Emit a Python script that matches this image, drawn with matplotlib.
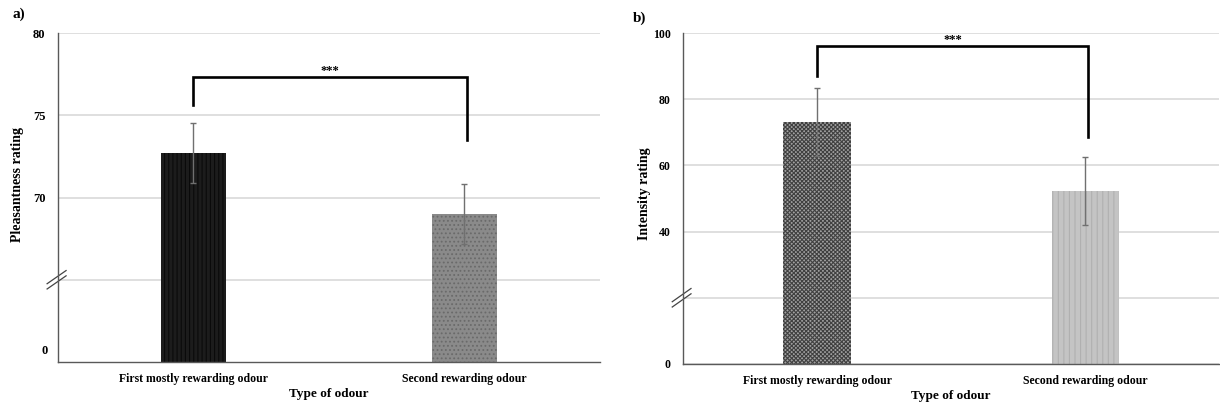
import matplotlib
matplotlib.use("Agg")
import matplotlib.pyplot as plt

plt.rcParams["font.family"] = ["Liberation Serif", "DejaVu Serif"]
plt.rcParams["font.weight"] = "bold"
plt.rcParams["hatch.linewidth"] = 0.8

# ── data ─────────────────────────────────────────────────────────────────────
categories = ["First mostly rewarding odour", "Second rewarding odour"]

pleasant_mean = [72.7, 69.0]
pleasant_err = [1.8, 1.85]

intensity_mean = [73.0, 52.3]
intensity_err = [10.3, 10.3]

# ── style ────────────────────────────────────────────────────────────────────
GRID = "#d9d9d9"
SPINE = "#595959"
ERR = "#707070"

fig = plt.figure(figsize=(12.2, 4.08), dpi=100)
ax_a = fig.add_axes([0.0475, 0.1127, 0.4443, 0.8064])
ax_b = fig.add_axes([0.5598, 0.108, 0.4395, 0.811])


def style_axis(ax, ysize):
    for side in ("top", "right"):
        ax.spines[side].set_visible(False)
    ax.spines["left"].set_color(SPINE)
    ax.spines["bottom"].set_color(SPINE)
    ax.spines["left"].set_linewidth(1.0)
    ax.spines["bottom"].set_linewidth(1.0)
    ax.tick_params(axis="both", length=0)
    ax.tick_params(axis="x", pad=8, labelsize=8.5)
    ax.tick_params(axis="y", pad=9, labelsize=ysize)
    ax.yaxis.grid(True, color=GRID, linewidth=1.2)
    ax.set_axisbelow(True)
    ax.set_xlim(-0.5, 1.5)
    ax.set_xticks(range(len(categories)))
    ax.set_xticklabels(categories, fontweight="bold")
    ax.set_xlabel("Type of odour", fontsize=9.5, fontweight="bold", labelpad=2)


def break_mark(ax, yfrac):
    for dy in (-0.008, 0.008):
        ax.plot([-0.02, 0.015], [yfrac - 0.02 + dy, yfrac + 0.02 + dy],
                transform=ax.transAxes, color="#444444", linewidth=0.9,
                clip_on=False)


def bracket(ax, y_left, y_top, y_right, x0=0.0, x1=1.01):
    ax.plot([x0, x0, x1, x1], [y_left, y_top, y_top, y_right],
            color="black", linewidth=1.9, solid_joinstyle="miter")
    ax.text((x0 + x1) / 2, y_top, "***", ha="center", va="bottom",
            fontsize=9, fontweight="bold")


# ── a) pleasantness ──────────────────────────────────────────────────────────
style_axis(ax_a, 9)
ax_a.set_ylim(60, 80)
ax_a.set_yticks([65, 70, 75, 80])
ax_a.set_yticklabels(["", "70", "75", "80"], fontweight="bold")
ax_a.text(-0.018, 60.7, "0", transform=ax_a.get_yaxis_transform(),
          ha="right", va="center", fontsize=9, fontweight="bold")

ax_a.bar(0, pleasant_mean[0], width=0.24, color="#1c1c1c", edgecolor="#0a0a0a",
         hatch="||||", linewidth=0)
ax_a.bar(1, pleasant_mean[1], width=0.24, color="#8a8a8a", edgecolor="#6a6a6a",
         hatch="....", linewidth=0)
ax_a.errorbar([0, 1], pleasant_mean, yerr=pleasant_err, fmt="none",
              ecolor=ERR, elinewidth=1.0, capsize=2.5, capthick=1.0)
bracket(ax_a, 75.6, 77.3, 73.5)
break_mark(ax_a, 0.25)
ax_a.set_ylabel("Pleasantness rating", fontsize=10, fontweight="bold")
ax_a.yaxis.set_label_coords(-0.062, 0.54)
fig.text(0.010, 0.965, "a)", fontsize=11, fontweight="bold", va="center")

# ── b) intensity ─────────────────────────────────────────────────────────────
style_axis(ax_b, 8.5)
ax_b.set_ylim(0, 100)
ax_b.set_yticks([0, 20, 40, 60, 80, 100])
ax_b.set_yticklabels(["0", "", "40", "60", "80", "100"], fontweight="bold")

ax_b.bar(0, intensity_mean[0], width=0.25, color="#a0a0a0", edgecolor="#404040",
         hatch="xxxxxxxx", linewidth=0)
ax_b.bar(1, intensity_mean[1], width=0.25, color="#c4c4c4", edgecolor="#b0b0b0",
         hatch="|||", linewidth=0)
ax_b.errorbar([0, 1], intensity_mean, yerr=intensity_err, fmt="none",
              ecolor=ERR, elinewidth=1.0, capsize=2.5, capthick=1.0)
bracket(ax_b, 87.0, 96.2, 68.6)
break_mark(ax_b, 0.2)
ax_b.set_ylabel("Intensity rating", fontsize=10, fontweight="bold")
ax_b.yaxis.set_label_coords(-0.060, 0.514)
fig.text(0.519, 0.955, "b)", fontsize=11, fontweight="bold", va="center")

fig.savefig("out.png", dpi=100)
plt.close(fig)
